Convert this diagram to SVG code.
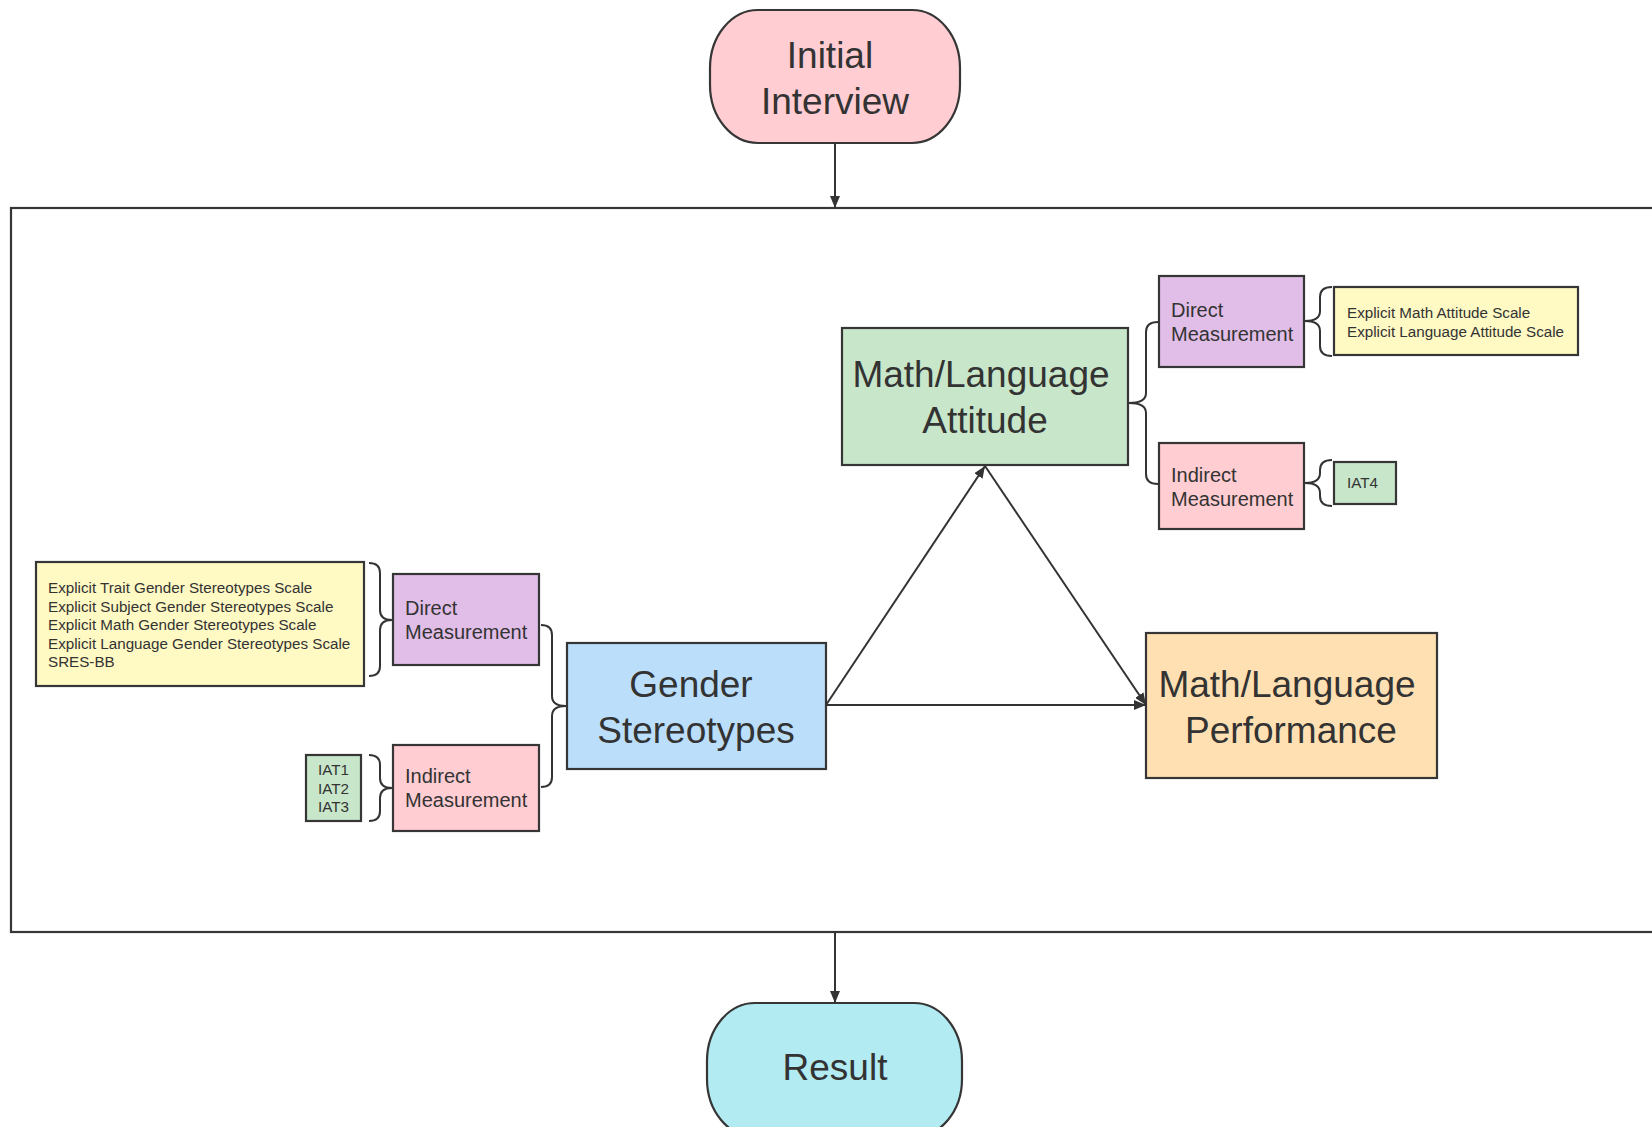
<svg xmlns="http://www.w3.org/2000/svg" width="1652" height="1127" viewBox="0 0 1652 1127">
<style>
.box{stroke:#363636;stroke-width:2.2}
.t{font-family:"Liberation Sans",Arial,sans-serif;fill:#333}
.big{font-size:37px}
.mid{font-size:20px}
.small{font-size:15.2px}
.line{stroke:#333;stroke-width:2;fill:none}
.brace{stroke:#333;stroke-width:2;fill:none}
</style>
<defs>
<marker id="arr" viewBox="0 0 12 10" refX="12" refY="5" markerWidth="12" markerHeight="10" markerUnits="userSpaceOnUse" orient="auto">
<path d="M0,0 L12,5 L0,10 z" fill="#333"/>
</marker>
</defs>
<rect width="1652" height="1127" fill="#fff"/>

<g id="container">
<rect x="11" y="208" width="1700" height="724" fill="none" class="box"/>
</g>

<g id="initial-interview">
<rect x="710" y="10" width="250" height="133" rx="48" ry="58" fill="#FFCDD2" class="box"/>
<text class="t big" x="830" y="68" text-anchor="middle">Initial</text>
<text class="t big" x="835" y="114" text-anchor="middle">Interview</text>
</g>

<g id="result">
<rect x="707" y="1003" width="255" height="134" rx="48" ry="58" fill="#B2EBF2" class="box"/>
<text class="t big" x="835" y="1080" text-anchor="middle">Result</text>
</g>

<g id="gender-stereotypes">
<rect x="567" y="643" width="259" height="126" fill="#BBDEFB" class="box"/>
<text class="t big" x="691" y="697" text-anchor="middle">Gender</text>
<text class="t big" x="696" y="743" text-anchor="middle">Stereotypes</text>
</g>

<g id="attitude">
<rect x="842" y="328" width="286" height="137" fill="#C8E6C9" class="box"/>
<text class="t big" x="981" y="387" text-anchor="middle">Math/Language</text>
<text class="t big" x="985" y="433" text-anchor="middle">Attitude</text>
</g>

<g id="performance">
<rect x="1146" y="633" width="291" height="145" fill="#FFE0B2" class="box"/>
<text class="t big" x="1287" y="697" text-anchor="middle">Math/Language</text>
<text class="t big" x="1291" y="743" text-anchor="middle">Performance</text>
</g>

<g id="gs-direct">
<rect x="393" y="574" width="146" height="91" fill="#E1BEE7" class="box"/>
<text class="t mid" x="405" y="615">Direct</text>
<text class="t mid" x="405" y="639">Measurement</text>
</g>

<g id="gs-indirect">
<rect x="393" y="745" width="146" height="86" fill="#FFCDD2" class="box"/>
<text class="t mid" x="405" y="783">Indirect</text>
<text class="t mid" x="405" y="807">Measurement</text>
</g>

<g id="gs-scales">
<rect x="36" y="562" width="328" height="124" fill="#FFF9C4" class="box"/>
<text class="t small" x="48" y="593">Explicit Trait Gender Stereotypes Scale</text>
<text class="t small" x="48" y="611.5">Explicit Subject Gender Stereotypes Scale</text>
<text class="t small" x="48" y="630">Explicit Math Gender Stereotypes Scale</text>
<text class="t small" x="48" y="648.5">Explicit Language Gender Stereotypes Scale</text>
<text class="t small" x="48" y="667">SRES-BB</text>
</g>

<g id="gs-iat">
<rect x="306" y="755" width="55" height="66" fill="#C8E6C9" class="box"/>
<text class="t small" x="333.5" y="775" text-anchor="middle">IAT1</text>
<text class="t small" x="333.5" y="793.5" text-anchor="middle">IAT2</text>
<text class="t small" x="333.5" y="812" text-anchor="middle">IAT3</text>
</g>

<g id="att-direct">
<rect x="1159" y="276" width="145" height="91" fill="#E1BEE7" class="box"/>
<text class="t mid" x="1171" y="317">Direct</text>
<text class="t mid" x="1171" y="341">Measurement</text>
</g>

<g id="att-indirect">
<rect x="1159" y="443" width="145" height="86" fill="#FFCDD2" class="box"/>
<text class="t mid" x="1171" y="482">Indirect</text>
<text class="t mid" x="1171" y="506">Measurement</text>
</g>

<g id="att-scales">
<rect x="1334" y="287" width="244" height="68" fill="#FFF9C4" class="box"/>
<text class="t small" x="1347" y="318">Explicit Math Attitude Scale</text>
<text class="t small" x="1347" y="337">Explicit Language Attitude Scale</text>
</g>

<g id="att-iat">
<rect x="1334" y="462" width="62" height="42" fill="#C8E6C9" class="box"/>
<text class="t small" x="1347" y="488">IAT4</text>
</g>

<g id="connectors">
<line class="line" x1="835" y1="143" x2="835" y2="208" marker-end="url(#arr)"/>
<line class="line" x1="835" y1="932" x2="835" y2="1003" marker-end="url(#arr)"/>
<line class="line" x1="826" y1="705" x2="985" y2="466" marker-end="url(#arr)"/>
<line class="line" x1="985" y1="466" x2="1146" y2="705" marker-end="url(#arr)"/>
<line class="line" x1="826" y1="705" x2="1146" y2="705" marker-end="url(#arr)"/>
<path class="brace" d="M369,563 Q380,563 380,573 L380,610 Q380,620 392,620 Q380,620 380,630 L380,666 Q380,676 369,676"/>
<path class="brace" d="M369,755 Q380,755 380,765 L380,778 Q380,788 392,788 Q380,788 380,798 L380,811 Q380,821 369,821"/>
<path class="brace" d="M541,625 Q552,625 552,635 L552,696 Q552,706 566,706 Q552,706 552,716 L552,777 Q552,787 541,787"/>
<path class="brace" d="M1158,322 Q1146,322 1146,332 L1146,393 Q1146,403 1129,403 Q1146,403 1146,413 L1146,474 Q1146,484 1158,484"/>
<path class="brace" d="M1332,287 Q1320,287 1320,297 L1320,311 Q1320,321 1305,321 Q1320,321 1320,331 L1320,346 Q1320,356 1332,356"/>
<path class="brace" d="M1332,460 Q1320,460 1320,470 L1320,473 Q1320,483 1305,483 Q1320,483 1320,493 L1320,496 Q1320,506 1332,506"/>
</g>
</svg>
